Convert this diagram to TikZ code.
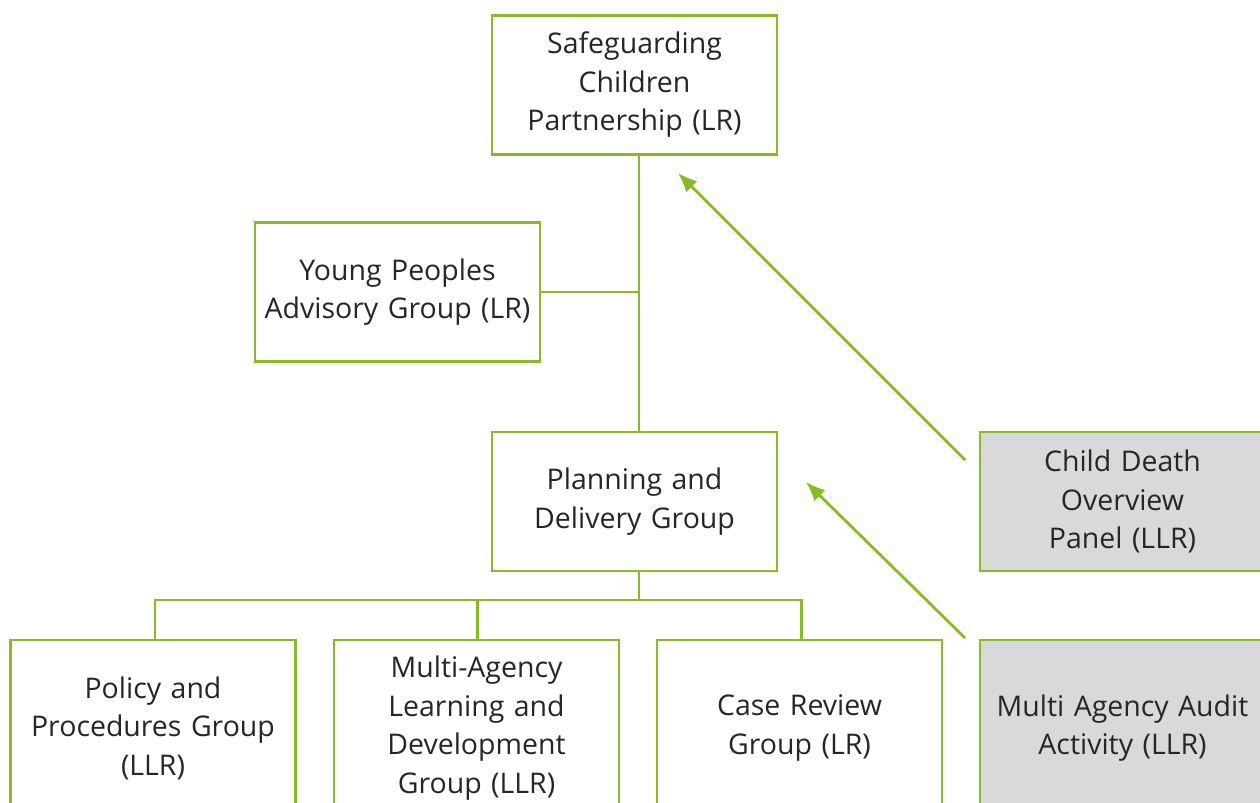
\documentclass[tikz,border=0pt]{standalone}
\usepackage{fontspec}
\setmainfont{Open Sans}
\usepackage{tikz}
\usetikzlibrary{arrows.meta}
\definecolor{lcgreen}{HTML}{86BC25}
\definecolor{lcgrey}{HTML}{D9D9D9}
\tikzset{
    groupnode/.style = {
        align=center,
        text centered,
        rectangle,
        draw=lcgreen,
        line width=1.6pt,
        fill=white,
        text=black!85,
        font=\fontsize{16.2}{21.9}\selectfont,
        minimum width=5.7cm,
        minimum height=2.78cm,
        text width=5.5cm,
        inner sep=1mm,
        outer sep=0mm
    },
    tallgroupnode/.style = {
        groupnode,
        minimum height=3.52cm
    },
    greygroupnode/.style = {
        groupnode,
        fill=lcgrey
    },
    link/.style = {
        draw=lcgreen,
        line width=1.6pt
    },
    feedlink/.style = {
        link,
        -{Latex[length=11pt,width=9pt]}
    }
}
\begin{document}
\begin{tikzpicture}
    \useasboundingbox (0,0) rectangle (25.2,16.06);
    \clip (0,0) rectangle (25.2,16.06);
    % main chain
    \node [groupnode] (scp) at (12.69,14.36) {Safeguarding\\Children\\Partnership (LR)};
    \node [groupnode] (ypag) at (7.95,10.22) {Young Peoples\\Advisory Group (LR)};
    \node [groupnode] (pdg) at (12.69,6.03) {Planning and\\Delivery Group};
    \node [greygroupnode] (cdop) at (22.45,6.03) {Child Death\\Overview\\Panel (LLR)};
    % sub groups
    \node [tallgroupnode] (ppg) at (3.06,1.50) {Policy and\\Procedures Group\\(LLR)};
    \node [tallgroupnode] (maldg) at (9.53,1.50) {Multi-Agency\\Learning and\\Development\\Group (LLR)};
    \node [tallgroupnode] (crg) at (15.99,1.50) {Case Review\\Group (LR)};
    \node [tallgroupnode, fill=lcgrey] (maaa) at (22.45,1.50) {Multi Agency Audit\\Activity (LLR)};
    % connectors
    \coordinate (trunk) at (12.78,0);
    \draw [link] (scp.south -| trunk) -- (pdg.north -| trunk);
    \draw [link] (ypag.east) -- (ypag.east -| trunk);
    \draw [link] (pdg.south -| trunk) -- ++(0,-0.58) coordinate (bus);
    \draw [link] ([xshift=0.04cm]ppg.north) |- (bus) -| ([xshift=0.04cm]crg.north);
    \draw [link] ([xshift=0.02cm]maldg.north) -- ([xshift=0.02cm]maldg.north |- bus);
    % feedback arrows
    \coordinate (cdopfrom) at (19.30,6.86);
    \coordinate (scpto) at (13.56,12.60);
    \coordinate (maaafrom) at (19.30,3.30);
    \coordinate (pdgto) at (16.12,6.42);
    \draw [feedlink] (cdopfrom) -- (scpto);
    \draw [feedlink] (maaafrom) -- (pdgto);
\end{tikzpicture}
\end{document}
